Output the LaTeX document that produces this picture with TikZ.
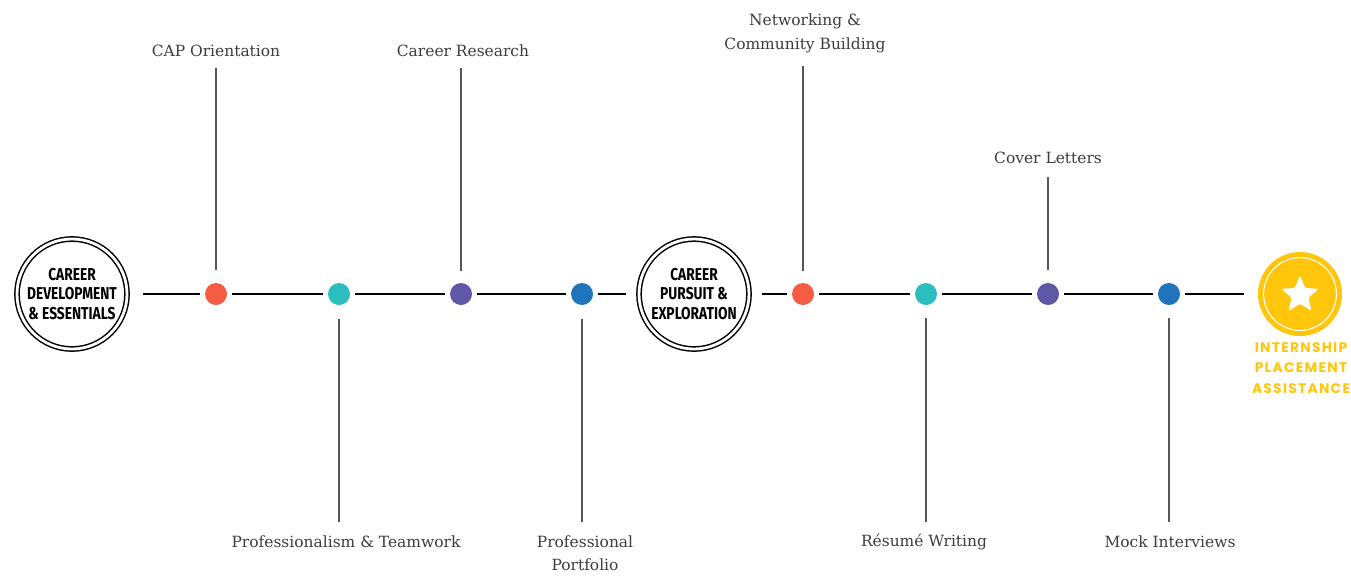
\documentclass[tikz,border=0pt]{standalone}
\usepackage{fontspec}
\setmainfont{DejaVu Serif}
\newfontfamily\condbold[FakeStretch=0.8]{Fira Sans}
\newfontfamily\yelfont[LetterSpace=9]{Poppins}
\usetikzlibrary{shapes.geometric}
\definecolor{corange}{HTML}{F45D41}
\definecolor{cteal}{HTML}{2BBDBF}
\definecolor{cpurple}{HTML}{5F58A7}
\definecolor{cblue}{HTML}{1F74BC}
\definecolor{cyellow}{HTML}{FFC60B}
\definecolor{ctext}{HTML}{3C3C3C}
\definecolor{cvline}{HTML}{555555}
\tikzset{
  hline/.style={line width=1.1pt, black},
  vline/.style={line width=0.8pt, cvline},
  dot/.style={circle, minimum size=16.5pt, inner sep=0pt, outer sep=3.75pt},
  bigc/.style={circle, draw=black, double=white, line width=1.1pt, double distance=2.1pt,
    minimum size=82.5pt, inner sep=0pt, align=center,
    font=\condbold\bfseries\fontsize{12.9}{14.3}\selectfont},
  lbl/.style={align=center, text=ctext, inner sep=0pt,
    font=\fontsize{11.6}{17.5}\selectfont},
}
\begin{document}
\begin{tikzpicture}[x=0.75pt,y=-0.75pt]
\useasboundingbox (0,0) rectangle (1351,575);
% main nodes
\node[bigc, outer sep=12pt] (c1) at (72,294) {CAREER\\DEVELOPMENT\\\& ESSENTIALS};
\node[bigc, outer sep=9.5pt] (c2) at (694,294) {CAREER\\PURSUIT \&\\EXPLORATION};
\node[circle, fill=cyellow, minimum size=63pt, inner sep=0pt, outer sep=10.5pt] (c3) at (1300,294) {};
\draw[white, line width=0.8pt] (c3.center) circle[radius=27.3pt];
\node[star, star points=5, star point ratio=2.3, fill=white, minimum size=30pt, inner sep=0pt, rounded corners=1.3pt] (s) at (1300,295) {};
\node[align=center, text=cyellow, inner sep=0pt, font=\yelfont\bfseries\fontsize{10.4}{15.2}\selectfont] (l9) at (1301,368) {INTERNSHIP\\PLACEMENT\\ASSISTANCE};
% dots
\node[dot, fill=corange] (d1) at (216,294) {};
\node[dot, fill=cteal]   (d2) at (339,294) {};
\node[dot, fill=cpurple] (d3) at (461,294) {};
\node[dot, fill=cblue]   (d4) at (582,294) {};
\node[dot, fill=corange] (d5) at (803,294) {};
\node[dot, fill=cteal]   (d6) at (926,294) {};
\node[dot, fill=cpurple] (d7) at (1048,294) {};
\node[dot, fill=cblue]   (d8) at (1169,294) {};
% horizontal line
\draw[hline] (c1) -- (d1);
\draw[hline] (d1) -- (d2);
\draw[hline] (d2) -- (d3);
\draw[hline] (d3) -- (d4);
\draw[hline] (d4) -- (c2);
\draw[hline] (c2) -- (d5);
\draw[hline] (d5) -- (d6);
\draw[hline] (d6) -- (d7);
\draw[hline] (d7) -- (d8);
\draw[hline] (d8) -- (c3);
% labels
\node[lbl] (l1) at (216,51) {CAP Orientation};
\node[lbl] (l3) at (463,51) {Career Research};
\node[lbl] (l5) at (805,33.5) {Networking \&\\Community Building};
\node[lbl] (l7) at (1048,158) {Cover Letters};
\node[lbl] (l2) at (346,542) {Professionalism \& Teamwork};
\node[lbl] (l4) at (585,553.5) {Professional\\Portfolio};
\node[lbl] (l6) at (924,542) {Résumé Writing};
\node[lbl] (l8) at (1170,542) {Mock Interviews};
% vertical line ends
\coordinate (t1) at (216,68);
\coordinate (t3) at (461,68);
\coordinate (t5) at (803,66);
\coordinate (t7) at (1048,177);
\coordinate (b2) at (339,522);
\coordinate (b4) at (582,522);
\coordinate (b6) at (926,522);
\coordinate (b8) at (1169,522);
\draw[vline, shorten >=6pt] (t1) -- (d1);
\draw[vline, shorten >=5pt] (t3) -- (d3);
\draw[vline, shorten >=5pt] (t5) -- (d5);
\draw[vline, shorten >=6pt] (t7) -- (d7);
\draw[vline, shorten >=7pt] (b2) -- (d2);
\draw[vline, shorten >=7pt] (b4) -- (d4);
\draw[vline, shorten >=6pt] (b6) -- (d6);
\draw[vline, shorten >=6pt] (b8) -- (d8);
\end{tikzpicture}
\end{document}
